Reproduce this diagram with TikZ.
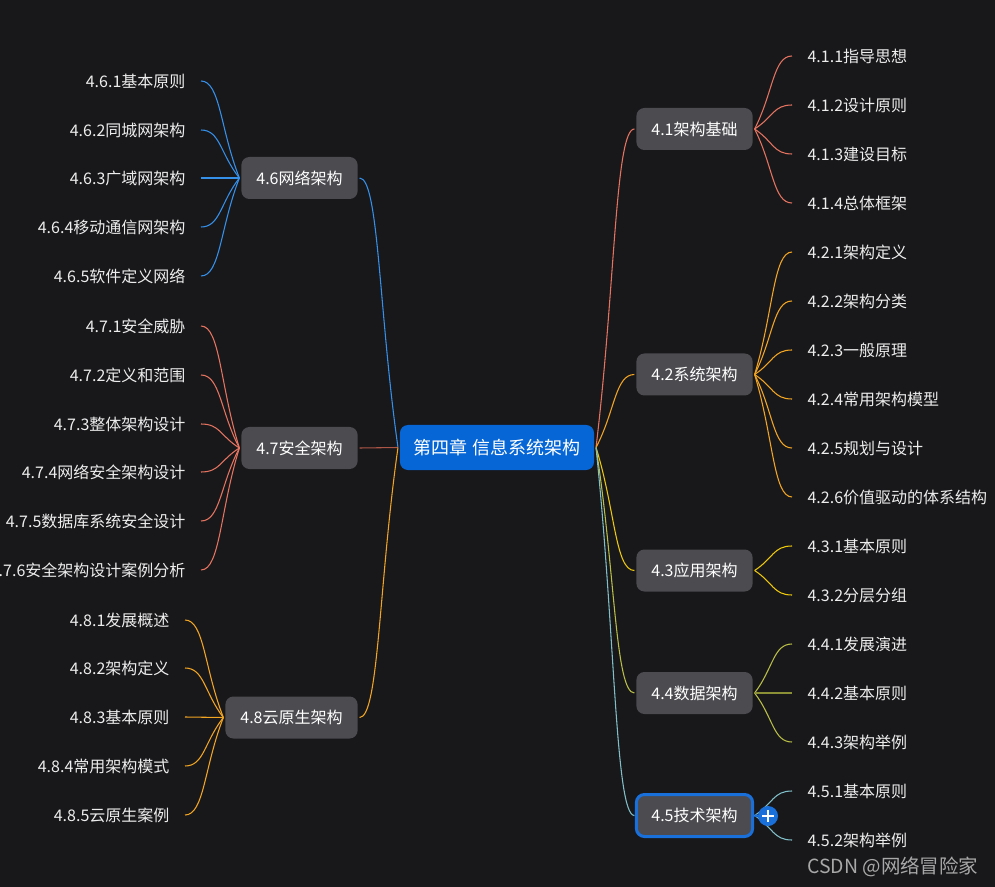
\documentclass[tikz,border=0pt]{standalone}
\usepackage{fontspec}
\setmainfont{Noto Sans CJK SC}
\usetikzlibrary{calc}
\definecolor{bg}{HTML}{18181B}
\definecolor{nodefill}{HTML}{4B4B50}
\definecolor{rootblue}{HTML}{0766D6}
\definecolor{selblue}{HTML}{1A70DA}
\definecolor{leaftext}{HTML}{EDEDED}
\definecolor{wmgray}{HTML}{A8A8A8}
\definecolor{csalmon}{HTML}{E5735F}
\definecolor{corange}{HTML}{F2A522}
\definecolor{cyellow}{HTML}{EDC80C}
\definecolor{colive}{HTML}{B9BE46}
\definecolor{cteal}{HTML}{80BFC8}
\definecolor{cblue}{HTML}{3590EA}
\newcommand\mmlink[3]{\draw[conn,#1] let \p1=(#2), \p2=(#3) in (\p1) .. controls ({(\x1+\x2)/2},{(\y1+\y2)/2}) and ({(\x1+\x2)/2},\y2) .. (\p2);}
\begin{document}
\begin{tikzpicture}[x=0.75pt,y=-0.75pt,
  topic/.style={fill=nodefill, text=white, rounded corners=6pt, inner xsep=11.25pt, inner ysep=0pt, minimum height=31.5pt, outer sep=1.5pt, font=\fontsize{12}{14}\selectfont},
  rootnode/.style={topic, fill=rootblue, minimum height=33.75pt, inner xsep=10.5pt, font=\fontsize{13.5}{16}\selectfont},
  leaf/.style={text=leaftext, inner xsep=11.5pt, inner ysep=1pt, font=\fontsize{12}{14}\selectfont},
  leafR/.style={leaf, anchor=west},
  leafL/.style={leaf, anchor=east},
  conn/.style={line width=0.8pt}]
\fill[bg] (0,0) rectangle (995,887);
\useasboundingbox (0,0) rectangle (995,887);

% root and topics
\node[rootnode] (root) at (497,447.5) {第四章 信息系统架构};
\node[topic] (t41) at (694.5,129) {4.1架构基础};
\node[topic] (t42) at (694.5,374.5) {4.2系统架构};
\node[topic] (t43) at (694.5,570.5) {4.3应用架构};
\node[topic] (t44) at (694.5,693) {4.4数据架构};
\node[topic, draw=selblue, line width=2.25pt] (t45) at (694.5,815.5) {4.5技术架构};
\node[topic] (t46) at (299.5,178) {4.6网络架构};
\node[topic] (t47) at (299.5,448) {4.7安全架构};
\node[topic] (t48) at (291.5,717.5) {4.8云原生架构};

% right leaves
\node[leafR] (t411) at (792,56) {4.1.1指导思想};
\node[leafR] (t412) at (792,105) {4.1.2设计原则};
\node[leafR] (t413) at (792,154) {4.1.3建设目标};
\node[leafR] (t414) at (792,203) {4.1.4总体框架};
\node[leafR] (t421) at (792,252) {4.2.1架构定义};
\node[leafR] (t422) at (792,301) {4.2.2架构分类};
\node[leafR] (t423) at (792,350) {4.2.3一般原理};
\node[leafR] (t424) at (792,399) {4.2.4常用架构模型};
\node[leafR] (t425) at (792,448) {4.2.5规划与设计};
\node[leafR] (t426) at (792,497) {4.2.6价值驱动的体系结构};
\node[leafR] (t431) at (792,546) {4.3.1基本原则};
\node[leafR] (t432) at (792,595) {4.3.2分层分组};
\node[leafR] (t441) at (792,644) {4.4.1发展演进};
\node[leafR] (t442) at (792,693) {4.4.2基本原则};
\node[leafR] (t443) at (792,742) {4.4.3架构举例};
\node[leafR] (t451) at (792,791) {4.5.1基本原则};
\node[leafR] (t452) at (792,840) {4.5.2架构举例};

% left leaves
\node[leafL] (t461) at (201,81) {4.6.1基本原则};
\node[leafL] (t462) at (201,130) {4.6.2同城网架构};
\node[leafL] (t463) at (201,178) {4.6.3广域网架构};
\node[leafL] (t464) at (201,227) {4.6.4移动通信网架构};
\node[leafL] (t465) at (201,276) {4.6.5软件定义网络};
\node[leafL] (t471) at (201,326) {4.7.1安全威胁};
\node[leafL] (t472) at (201,375) {4.7.2定义和范围};
\node[leafL] (t473) at (201,424) {4.7.3整体架构设计};
\node[leafL] (t474) at (201,472) {4.7.4网络安全架构设计};
\node[leafL] (t475) at (201,521) {4.7.5数据库系统安全设计};
\node[leafL] (t476) at (201,570) {4.7.6安全架构设计案例分析};
\node[leafL] (t481) at (185,620) {4.8.1发展概述};
\node[leafL] (t482) at (185,668) {4.8.2架构定义};
\node[leafL] (t483) at (185,717) {4.8.3基本原则};
\node[leafL] (t484) at (185,766) {4.8.4常用架构模式};
\node[leafL] (t485) at (185,815) {4.8.5云原生案例};

% root connectors
\mmlink{csalmon}{root.east}{t41.west}
\mmlink{corange}{root.east}{t42.west}
\mmlink{cyellow}{root.east}{t43.west}
\mmlink{colive}{root.east}{t44.west}
\mmlink{cteal}{root.east}{t45.west}
\mmlink{cblue}{root.west}{t46.east}
\mmlink{csalmon!75!black}{root.west}{t47.east}
\mmlink{corange}{root.west}{t48.east}

% topic connectors
\foreach \c in {t411,t412,t413,t414}{\mmlink{csalmon}{t41.east}{\c.west}}
\foreach \c in {t421,t422,t423,t424,t425,t426}{\mmlink{corange}{t42.east}{\c.west}}
\foreach \c in {t431,t432}{\mmlink{cyellow}{t43.east}{\c.west}}
\foreach \c in {t441,t443}{\mmlink{colive}{t44.east}{\c.west}}
\mmlink{colive!75!black}{t44.east}{t442.west}
\foreach \c in {t451,t452}{\mmlink{cteal}{t45.east}{\c.west}}
\foreach \c in {t461,t462,t463,t464,t465}{\mmlink{cblue}{t46.west}{\c.east}}
\foreach \c in {t471,t472,t473,t474,t475,t476}{\mmlink{csalmon}{t47.west}{\c.east}}
\foreach \c in {t481,t482,t483,t484,t485}{\mmlink{corange}{t48.west}{\c.east}}

% collapse button
\node[circle, fill=selblue, minimum size=15pt, inner sep=0pt] (plus) at (768,816) {};
\draw[selblue, line width=2pt] (t45.east) -- (plus.west);
\draw[white, line width=1.4pt] ([xshift=-4.3pt]plus.center) -- ([xshift=4.3pt]plus.center);
\draw[white, line width=1.4pt] ([yshift=-4.3pt]plus.center) -- ([yshift=4.3pt]plus.center);

% watermark
\node[anchor=west, text=wmgray, inner sep=0pt, font=\fontsize{14.6}{17}\selectfont] (wm) at (807,867) {CSDN @网络冒险家};
\end{tikzpicture}
\end{document}
